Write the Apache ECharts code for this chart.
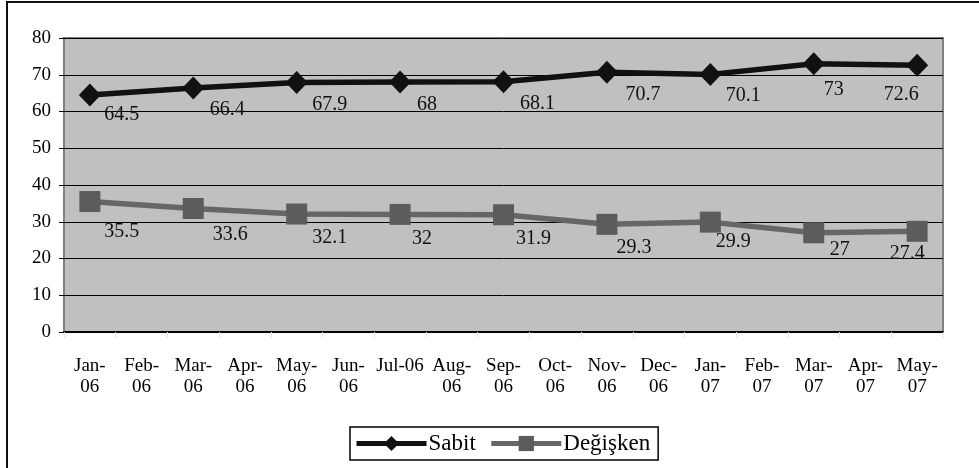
<!DOCTYPE html>
<html>
<head>
<meta charset="utf-8">
<script src="https://cdn.jsdelivr.net/npm/echarts@6/dist/echarts.min.js"></script>
<style>
  html, body { margin: 0; padding: 0; background: #fff; }
  #chart { width: 979px; height: 468px; }
</style>
</head>
<body>
<div id="chart"></div>
<script>
// Monthly categories; only every other month carries a reading.
const months = ['Jan-06', 'Feb-06', 'Mar-06', 'Apr-06', 'May-06', 'Jun-06', 'Jul-06', 'Aug-06', 'Sep-06',
  'Oct-06', 'Nov-06', 'Dec-06', 'Jan-07', 'Feb-07', 'Mar-07', 'Apr-07', 'May-07'];
const sabit = [64.5, null, 66.4, null, 67.9, null, 68, null, 68.1, null, 70.7, null, 70.1, null, 73, null, 72.6];
const degisken = [35.5, null, 33.6, null, 32.1, null, 32, null, 31.9, null, 29.3, null, 29.9, null, 27, null, 27.4];
const yTicks = { min: 0, max: 80, step: 10 };

// Value-label placement relative to each marker (dx, dy in px).
const sabitLabelShift = { 0: [32, 20], 2: [34, 22], 4: [33, 22], 6: [27, 23], 8: [34, 22], 10: [36, 23], 12: [33, 21], 14: [20, 26], 16: [-16, 30] };
const degiskenLabelShift = { 0: [32, 30], 2: [37, 26], 4: [33, 24], 6: [22, 24], 8: [30, 24], 10: [27, 23], 12: [23, 20], 14: [26, 17], 16: [-10, 22] };

const FONT = '"Liberation Serif", "Times New Roman", serif';

function withLabels(values, shifts) {
  return values.map((v, i) => {
    if (v === null) return null;
    const s = shifts[i] || [32, 22];
    return { value: v, label: { offset: s } };
  });
}

const chart = echarts.init(document.getElementById('chart'), null, { renderer: 'canvas' });

chart.setOption({
  animation: false,
  backgroundColor: '#fff',
  textStyle: { fontFamily: FONT, color: '#000' },
  graphic: [{
    type: 'rect',
    shape: { x: 7, y: 2, width: 1100, height: 600 },
    style: { fill: 'none', stroke: '#111', lineWidth: 2 },
    silent: true,
    z: 100
  }],
  grid: {
    left: 64, top: 38, right: 36, bottom: 136,
    show: true,
    backgroundColor: '#c0c0c0',
    borderColor: '#808080',
    borderWidth: 2,
    outerBoundsMode: 'none'
  },
  legend: {
    left: 350, top: 427,
    padding: [5, 8, 5, 4],
    itemGap: 13,
    itemWidth: 70,
    itemHeight: 19,
    borderColor: '#000',
    borderWidth: 1.5,
    lineStyle: { width: 5 },
    textStyle: { fontFamily: FONT, fontSize: 23, color: '#000', padding: [0, 0, 0, -3] },
    data: ['Sabit', 'Değişken']
  },
  xAxis: {
    type: 'category',
    data: months,
    boundaryGap: true,
    axisLine: { show: true, lineStyle: { color: '#000', width: 2 } },
    axisTick: { show: true, interval: 0, length: 6, lineStyle: { color: '#e6e6e6', width: 1 } },
    axisLabel: {
      interval: 0, margin: 24, fontFamily: FONT, fontSize: 19, lineHeight: 21, color: '#000',
      formatter: (v) => v === 'Jul-06' ? v : v.replace('-', '-\n')
    },
    splitLine: { show: false }
  },
  yAxis: {
    type: 'value',
    min: yTicks.min, max: yTicks.max, interval: yTicks.step,
    axisLine: { show: false },
    axisTick: { show: true, length: 5, lineStyle: { color: '#000', width: 1 } },
    axisLabel: { margin: 13, fontFamily: FONT, fontSize: 19, color: '#000' },
    splitLine: { show: true, lineStyle: { color: '#000', width: 1 } }
  },
  series: [
    {
      name: 'Sabit',
      type: 'line',
      data: withLabels(sabit, sabitLabelShift),
      connectNulls: true,
      symbol: 'diamond',
      symbolSize: [22, 23],
      lineStyle: { color: '#111', width: 5.5 },
      itemStyle: { color: '#111' },
      label: { show: true, position: 'inside', fontFamily: FONT, fontSize: 20, color: '#111' },
      z: 3
    },
    {
      name: 'Değişken',
      type: 'line',
      data: withLabels(degisken, degiskenLabelShift),
      connectNulls: true,
      symbol: 'rect',
      symbolSize: 21,
      lineStyle: { color: '#666', width: 5.5 },
      itemStyle: { color: '#5c5c5c' },
      label: { show: true, position: 'inside', fontFamily: FONT, fontSize: 20, color: '#111' },
      z: 2
    }
  ]
});
</script>
</body>
</html>
